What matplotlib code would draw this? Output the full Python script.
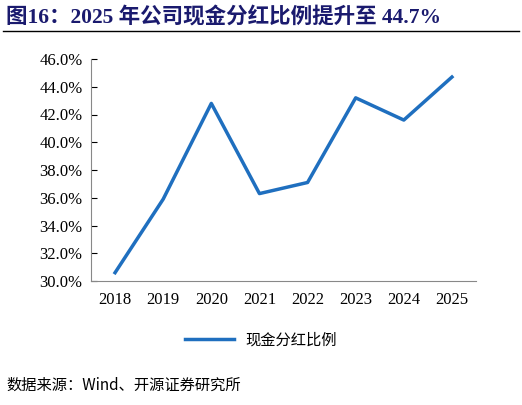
import matplotlib
matplotlib.use('Agg')
import matplotlib.pyplot as plt
from matplotlib.lines import Line2D

years = ['2018', '2019', '2020', '2021', '2022', '2023', '2024', '2025']
ratio = [30.6, 35.9, 42.8, 36.3, 37.1, 43.2, 41.6, 44.7]
yticks = [30, 32, 34, 36, 38, 40, 42, 44, 46]

fams = ['Liberation Serif', 'Noto Sans CJK SC']
plt.rcParams['font.family'] = fams

fig = plt.figure(figsize=(5.22, 4.05), dpi=100)
ax = fig.add_axes([91/522, 1-281/405, 385/522, 222/405])

x = list(range(len(years)))
line, = ax.plot(x, ratio, color='#1f6fbf', lw=2.5)
ax.set_xlim(-0.5, 7.5)
ax.set_ylim(30, 46)
ax.set_xticks(x)
ax.set_xticklabels(years, fontsize=12)
ax.set_yticks(yticks)
ax.set_yticklabels(['%.1f%%' % v for v in yticks], fontsize=12)
ax.tick_params(axis='x', length=0, pad=8)
ax.tick_params(axis='y', direction='in', length=4, pad=6)
for s in ['top', 'right']:
    ax.spines[s].set_visible(False)
for s in ['left', 'bottom']:
    ax.spines[s].set_color('#888888')

fig.legend([line], ['现金分红比例'], loc='center', bbox_to_anchor=(0.5, 1-340/405),
           frameon=False, prop={'family': ['Noto Sans CJK SC'], 'size': 11},
           handlelength=3.2)

fig.text(0.012, 1-18/405, '图16：2025 年公司现金分红比例提升至 44.7%', fontsize=15.5,
         fontweight='bold', color='#1a1a6e', va='center',
         family=['Liberation Serif', 'Noto Sans CJK SC'])
fig.add_artist(Line2D([0.006, 0.994], [1-31/405, 1-31/405], color='black', lw=1))
fig.text(0.012, 1-385/405, '数据来源：Wind、开源证券研究所', fontsize=11, va='center',
         family=['Noto Sans CJK SC'])

fig.savefig('out.png', dpi=100)
